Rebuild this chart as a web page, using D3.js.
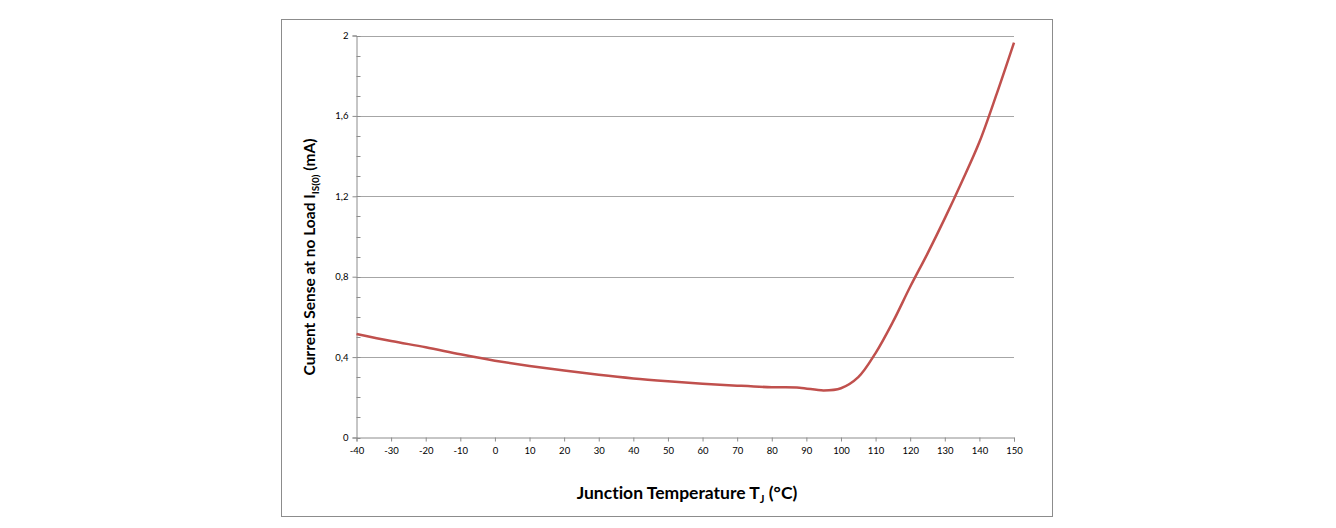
<!DOCTYPE html>
<html>
<head>
<meta charset="utf-8">
<script src="https://cdn.jsdelivr.net/npm/d3@7"></script>
<style>
  body { margin: 0; background: #fff; }
  svg text { font-family: Lato, "Open Sans", sans-serif; font-variant-ligatures: none; }
</style>
</head>
<body>
<svg id="chart"></svg>
<script>
var width = 1336;
var height = 528;

// data
var tempC = [-40, -30, -20, -10, 0, 10, 20, 30, 40, 50, 60, 70, 80, 88, 95, 100, 105, 110, 115, 120, 125, 130, 135, 140, 145, 150];
var senseMA = [0.515, 0.48, 0.449, 0.414, 0.382, 0.356, 0.333, 0.312, 0.294, 0.28, 0.268, 0.258, 0.25, 0.248, 0.234, 0.245, 0.3, 0.42, 0.575, 0.75, 0.915, 1.09, 1.275, 1.47, 1.71, 1.965];
var xTicks = [-40, -30, -20, -10, 0, 10, 20, 30, 40, 50, 60, 70, 80, 90, 100, 110, 120, 130, 140, 150];
var yTicks = [0, 0.4, 0.8, 1.2, 1.6, 2];
var yMinor = d3.range(0, 2.0001, 0.1);

var svg = d3.select("#chart")
  .attr("width", width)
  .attr("height", height);

// outer frame
svg.append("rect")
  .attr("x", 281.5).attr("y", 19.5)
  .attr("width", 771).attr("height", 497)
  .attr("fill", "none")
  .attr("stroke", "#8c8c8c");

var pLeft = 356.5, pRight = 1014, pTop = 35.5, pBottom = 437.5;

var x = d3.scaleLinear().domain([-40, 150]).range([pLeft, pRight]);
var y = d3.scaleLinear().domain([0, 2]).range([pBottom, pTop]);

// gridlines
svg.append("g").selectAll("line")
  .data(yTicks.filter(function (d) { return d > 0; }))
  .enter().append("line")
  .attr("x1", pLeft).attr("x2", pRight)
  .attr("y1", function (d) { return Math.round(y(d)) + 0.5; })
  .attr("y2", function (d) { return Math.round(y(d)) + 0.5; })
  .attr("stroke", "#a6a6a6")
  .attr("stroke-width", 1);

// minor ticks on y axis, inside the plot
svg.append("g").selectAll("line")
  .data(yMinor)
  .enter().append("line")
  .attr("x1", pLeft).attr("x2", pLeft + 4)
  .attr("y1", function (d) { return Math.round(y(d)) + 0.5; })
  .attr("y2", function (d) { return Math.round(y(d)) + 0.5; })
  .attr("stroke", "#8c8c8c");

// y axis
var yAxis = d3.axisLeft(y)
  .tickValues(yTicks)
  .tickSize(4)
  .tickPadding(4)
  .tickFormat(function (d) { return String(d).replace(".", ","); });

var gy = svg.append("g")
  .attr("transform", "translate(" + pLeft + ",0)")
  .call(yAxis);
gy.selectAll("text").attr("font-size", 9.5).attr("fill", "#000");

// x axis
var xAxis = d3.axisBottom(x)
  .tickValues(xTicks)
  .tickSize(4)
  .tickPadding(6)
  .tickFormat(function (d) { return String(d); });

var gx = svg.append("g")
  .attr("transform", "translate(0," + pBottom + ")")
  .call(xAxis);
gx.selectAll("text").attr("font-size", 9.5).attr("fill", "#000");

svg.selectAll(".domain, .tick line").attr("stroke", "#8c8c8c");

// curve
var pts = tempC.map(function (t, i) { return [t, senseMA[i]]; });
var line = d3.line()
  .x(function (d) { return x(d[0]); })
  .y(function (d) { return y(d[1]); })
  .curve(d3.curveCatmullRom.alpha(0.5));

svg.append("path")
  .datum(pts)
  .attr("d", line)
  .attr("fill", "none")
  .attr("stroke", "#c0504d")
  .attr("stroke-width", 2.5)
  .attr("stroke-linejoin", "round");

// x title
var xt = svg.append("text")
  .attr("x", 687)
  .attr("y", 499)
  .attr("text-anchor", "middle")
  .attr("font-size", 17.5)
  .attr("font-weight", "bold");
xt.append("tspan").text("Junction Temperature T");
xt.append("tspan").attr("font-size", 11).attr("dy", 4).text("J");
xt.append("tspan").attr("dy", -4).text(" (°C)");

// y title
var yt = svg.append("text")
  .attr("transform", "translate(315,257) rotate(-90)")
  .attr("text-anchor", "middle")
  .attr("font-size", 15.5)
  .attr("font-weight", "bold");
yt.append("tspan").text("Current Sense at no Load  I");
yt.append("tspan").attr("font-size", 10).attr("dy", 4).text("IS(0)");
yt.append("tspan").attr("dy", -4).text(" (mA)");
</script>
</body>
</html>
